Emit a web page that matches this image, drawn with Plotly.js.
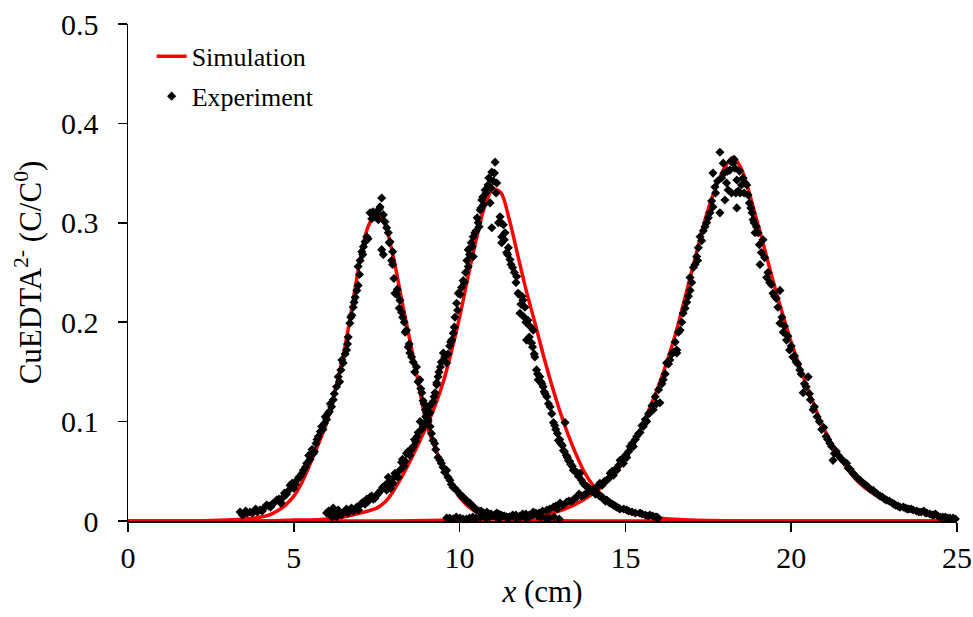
<!DOCTYPE html>
<html>
<head>
<meta charset="utf-8">
<script src="https://cdn.plot.ly/plotly-3.0.1.min.js"></script>
<style>html,body{margin:0;padding:0;background:#fff;}#chart{width:973px;height:617px;}</style>
</head>
<body>
<div id="chart"></div>
<script>
// Simulation curves
const sim1X = [0, 2, 3, 3.5, 4, 4.25, 4.5, 4.75, 5, 5.25, 5.5, 5.75, 6, 6.25, 6.5, 6.75, 7, 7.25, 7.5, 7.75, 8, 8.25, 8.5, 8.75, 9, 9.25, 9.5, 9.75, 10, 10.25, 10.5, 11, 12, 14, 25];
const sim1Y = [0, 0, 0.001, 0.002, 0.004, 0.006, 0.010, 0.016, 0.025, 0.039, 0.058, 0.078, 0.100, 0.132, 0.168, 0.214, 0.263, 0.297, 0.309, 0.298, 0.266, 0.223, 0.182, 0.140, 0.098, 0.074, 0.055, 0.038, 0.024, 0.015, 0.009, 0.003, 0.001, 0, 0];

const sim2X = [0, 4, 5, 5.5, 6, 6.5, 7, 7.5, 7.75, 8, 8.25, 8.5, 8.75, 9, 9.25, 9.5, 9.75, 10, 10.25, 10.5, 10.75, 11, 11.25, 11.5, 11.75, 12, 12.25, 12.5, 12.75, 13, 13.25, 13.5, 13.75, 14, 14.5, 15, 16, 17, 19, 25];
const sim2Y = [0, 0, 0.001, 0.001, 0.002, 0.004, 0.008, 0.013, 0.019, 0.030, 0.044, 0.060, 0.077, 0.095, 0.115, 0.139, 0.170, 0.205, 0.245, 0.283, 0.316, 0.334, 0.330, 0.303, 0.268, 0.233, 0.202, 0.170, 0.140, 0.113, 0.089, 0.068, 0.050, 0.037, 0.020, 0.010, 0.003, 0.001, 0, 0];

const sim3X = [0, 8, 10, 11, 12, 12.5, 13, 13.5, 14, 14.5, 15, 15.5, 16, 16.5, 17, 17.5, 18, 18.25, 18.5, 19, 19.5, 20, 20.5, 21, 21.5, 22, 22.5, 23, 23.5, 24, 24.5, 25];
const sim3Y = [0, 0, 0.001, 0.002, 0.004, 0.006, 0.010, 0.017, 0.027, 0.041, 0.062, 0.096, 0.136, 0.187, 0.251, 0.314, 0.356, 0.366, 0.354, 0.298, 0.236, 0.180, 0.133, 0.092, 0.062, 0.040, 0.027, 0.019, 0.012, 0.008, 0.005, 0.003];

const exp1X = [3.38,3.50,3.60,3.68,3.80,3.90,3.98,4.10,4.18,4.30,4.40,4.48,4.58,4.68,4.78,4.89,5.00,5.09,5.20,5.29,5.39,5.49,5.59,5.67,5.74,5.84,5.92,5.99,6.07,6.14,6.19,6.29,6.34,6.42,6.49,6.59,6.64,6.69,6.75,6.79,6.85,6.94,6.94,7.00,7.05,7.15,7.24,7.30,7.39,7.45,7.50,7.60,7.65,7.65,7.70,7.75,7.85,7.90,7.98,7.98,8.05,8.12,8.20,8.25,8.33,8.40,8.45,8.50,8.60,8.70,8.80,8.86,8.93,9.01,9.11,9.15,9.20,9.28,9.35,9.41,9.50,9.61,9.65,9.71,9.80,9.91,10.01,10.11,10.20,10.31,10.42,10.52,10.65,10.82,10.95,11.12,11.25,11.42,11.60,11.82,12.00,12.22,12.45,12.70,13.00,
  3.45,3.55,3.75,3.85,4.05,4.25,4.35,4.55,4.62,4.72,4.85,4.95,5.05,5.15,5.25,5.35,5.45,5.55,5.62,5.70,5.80,5.88,5.95,6.03,6.10,6.22,6.38,6.45,6.55,6.62,6.72,6.82,6.90,6.98,7.08,7.10,7.20,7.35,7.42,7.55,7.58,7.70,7.80,7.88,7.95,8.02,8.10,8.18,8.28,8.36,8.48,8.55,8.65,8.75,8.83,8.90,8.97,9.05,9.25,9.45,9.55,9.75,9.85,10.05,10.25,10.36,10.47,10.58,10.72,10.88,11.05,11.18,11.35,11.50,11.70,11.90,12.10,12.35,12.60,12.85];
const exp1Y = [0.009,0.007,0.008,0.009,0.010,0.009,0.011,0.013,0.016,0.014,0.018,0.021,0.019,0.024,0.027,0.036,0.033,0.041,0.045,0.051,0.058,0.062,0.068,0.078,0.085,0.095,0.098,0.102,0.110,0.115,0.122,0.135,0.145,0.152,0.159,0.172,0.185,0.199,0.207,0.215,0.225,0.237,0.256,0.262,0.271,0.281,0.284,0.310,0.311,0.306,0.310,0.316,0.325,0.273,0.268,0.301,0.290,0.281,0.271,0.258,0.229,0.233,0.222,0.210,0.200,0.192,0.175,0.169,0.160,0.155,0.142,0.129,0.118,0.109,0.095,0.088,0.081,0.072,0.064,0.061,0.054,0.051,0.044,0.041,0.034,0.031,0.027,0.024,0.021,0.018,0.014,0.011,0.010,0.009,0.007,0.008,0.006,0.004,0.005,0.004,0.003,0.006,0.004,0.003,0.002,
  0.006,0.010,0.008,0.012,0.010,0.015,0.017,0.022,0.018,0.028,0.031,0.038,0.037,0.044,0.048,0.054,0.066,0.072,0.070,0.082,0.090,0.092,0.105,0.108,0.118,0.128,0.140,0.162,0.168,0.178,0.205,0.220,0.232,0.248,0.268,0.276,0.286,0.304,0.308,0.303,0.314,0.308,0.295,0.280,0.262,0.244,0.228,0.214,0.205,0.190,0.178,0.165,0.150,0.140,0.133,0.121,0.112,0.100,0.078,0.058,0.049,0.037,0.033,0.025,0.019,0.016,0.012,0.010,0.008,0.007,0.006,0.007,0.005,0.004,0.003,0.005,0.004,0.005,0.003,0.004];

const exp2X = [5.99,6.10,6.19,6.29,6.39,6.49,6.59,6.69,6.80,6.90,7.00,7.10,7.20,7.30,7.40,7.50,7.60,7.75,7.85,7.92,8.00,8.10,8.20,8.25,8.32,8.40,8.50,8.60,8.68,8.75,8.81,8.90,8.98,9.05,9.11,9.20,9.26,9.31,9.31,9.38,9.45,9.51,9.61,9.70,9.76,9.81,9.86,9.91,9.96,10.06,10.11,10.18,10.26,10.26,10.35,10.41,10.41,10.50,10.56,10.62,10.67,10.72,10.77,10.86,10.92,10.97,10.97,11.02,11.07,11.12,11.22,11.27,11.27,11.32,11.37,11.42,11.47,11.52,11.60,11.72,11.76,11.82,11.88,11.91,11.97,12.02,12.06,12.12,12.17,12.22,12.27,12.32,12.37,12.45,12.52,12.58,12.63,12.73,12.83,12.90,12.98,13.05,13.13,13.18,13.22,13.28,13.35,13.43,13.53,13.63,13.73,13.84,13.94,14.04,14.14,14.23,14.34,14.44,14.54,14.64,14.74,14.84,15.04,15.20,15.44,15.60,15.74,15.90,15.99,
  6.05,6.15,6.24,6.34,6.44,6.54,6.64,6.74,6.85,6.95,7.05,7.15,7.25,7.35,7.45,7.55,7.68,7.80,7.88,7.96,8.05,8.15,8.28,8.36,8.45,8.55,8.64,8.72,8.85,8.94,9.02,9.08,9.16,9.23,9.35,9.42,9.55,9.65,9.73,9.84,9.94,10.02,10.14,10.22,10.30,10.38,10.46,10.53,10.59,10.65,10.70,10.80,10.88,10.95,11.05,11.10,11.17,11.25,11.35,11.45,11.55,11.65,11.70,11.80,11.85,11.95,12.00,12.10,12.20,12.25,12.35,12.42,12.48,12.55,12.68,12.78,12.87,12.95,13.02,13.10,13.16,13.25,13.32,13.40,13.48,13.58,13.68,13.78,13.90,14.00,14.10,14.20,14.30,14.40,14.50,14.60,14.70,14.80,14.95,15.10,15.30,15.50,15.68,15.82,15.95];
const exp2Y = [0.008,0.006,0.013,0.004,0.009,0.008,0.012,0.011,0.010,0.014,0.016,0.019,0.022,0.024,0.022,0.026,0.030,0.036,0.044,0.033,0.038,0.045,0.051,0.059,0.055,0.068,0.066,0.075,0.080,0.089,0.100,0.095,0.105,0.102,0.109,0.120,0.129,0.137,0.139,0.150,0.160,0.169,0.159,0.176,0.182,0.189,0.205,0.219,0.229,0.235,0.242,0.250,0.256,0.273,0.280,0.266,0.286,0.292,0.300,0.313,0.323,0.318,0.333,0.338,0.320,0.351,0.295,0.342,0.361,0.340,0.306,0.286,0.280,0.298,0.290,0.270,0.275,0.263,0.255,0.246,0.229,0.209,0.226,0.222,0.215,0.182,0.202,0.196,0.179,0.192,0.165,0.152,0.142,0.140,0.135,0.128,0.125,0.115,0.099,0.092,0.081,0.078,0.071,0.099,0.066,0.061,0.057,0.051,0.049,0.048,0.038,0.035,0.031,0.030,0.028,0.025,0.022,0.021,0.018,0.016,0.014,0.012,0.011,0.009,0.008,0.006,0.006,0.004,0.003,
  0.010,0.004,0.007,0.011,0.006,0.010,0.008,0.013,0.012,0.011,0.018,0.017,0.020,0.025,0.023,0.028,0.034,0.031,0.040,0.042,0.048,0.044,0.062,0.060,0.070,0.072,0.082,0.085,0.092,0.098,0.106,0.115,0.118,0.125,0.145,0.155,0.165,0.168,0.180,0.195,0.212,0.228,0.240,0.262,0.268,0.276,0.290,0.305,0.296,0.315,0.326,0.330,0.345,0.335,0.350,0.330,0.300,0.300,0.283,0.268,0.258,0.250,0.240,0.228,0.218,0.205,0.200,0.185,0.175,0.168,0.148,0.145,0.138,0.130,0.118,0.108,0.096,0.088,0.082,0.076,0.070,0.064,0.060,0.055,0.050,0.045,0.041,0.036,0.033,0.031,0.027,0.026,0.024,0.020,0.019,0.017,0.015,0.013,0.012,0.010,0.008,0.007,0.005,0.005,0.004];

const exp3X = [9.61,9.80,10.01,10.20,10.40,10.62,10.80,11.00,11.20,11.42,11.60,11.82,12.00,12.22,12.40,12.63,12.83,12.95,13.03,13.23,13.38,13.53,13.68,13.83,13.98,14.14,14.23,14.30,14.44,14.54,14.64,14.74,14.84,14.94,15.04,15.14,15.24,15.34,15.44,15.54,15.64,15.74,15.84,15.94,16.04,16.14,16.24,16.34,16.45,16.55,16.55,16.65,16.74,16.85,16.95,16.95,17.05,17.15,17.20,17.25,17.35,17.45,17.55,17.64,17.64,17.72,17.85,17.85,17.90,17.95,18.00,18.05,18.10,18.15,18.20,18.25,18.30,18.36,18.36,18.40,18.46,18.55,18.61,18.70,18.78,18.85,18.91,18.95,19.06,19.10,19.15,19.26,19.35,19.45,19.55,19.66,19.66,19.76,19.86,19.95,20.05,20.15,20.26,20.36,20.45,20.51,20.58,20.66,20.78,20.92,21.05,21.17,21.26,21.36,21.50,21.67,21.78,21.86,22.00,22.17,22.30,22.47,22.60,22.75,22.88,23.05,23.15,23.28,23.45,23.55,23.68,23.85,24.00,24.09,24.25,24.35,24.49,24.65,24.79,24.95,
  9.70,9.90,10.10,10.30,10.50,10.70,10.90,11.10,11.30,11.50,11.70,11.90,12.10,12.30,12.50,12.72,12.90,13.12,13.30,13.45,13.60,13.75,13.90,14.05,14.20,14.37,14.50,14.60,14.70,14.80,14.90,15.00,15.10,15.20,15.30,15.40,15.50,15.60,15.70,15.80,15.90,16.00,16.10,16.20,16.30,16.40,16.50,16.60,16.70,16.80,16.90,17.00,17.10,17.18,17.30,17.40,17.50,17.60,17.70,17.78,17.98,18.08,18.18,18.28,18.33,18.44,18.50,18.58,18.66,18.74,18.82,18.88,19.00,19.04,19.20,19.30,19.40,19.50,19.60,19.72,19.80,19.90,20.00,20.10,20.20,20.30,20.40,20.55,20.70,20.85,20.98,21.10,21.22,21.30,21.42,21.58,21.72,21.92,22.08,22.22,22.38,22.52,22.68,22.82,22.96,23.10,23.22,23.38,23.50,23.62,23.78,23.92,24.05,24.18,24.30,24.42,24.57,24.72,24.88];
const exp3Y = [0.003,0.002,0.003,0.002,0.004,0.004,0.003,0.005,0.003,0.004,0.006,0.005,0.007,0.009,0.008,0.011,0.014,0.012,0.018,0.019,0.020,0.024,0.025,0.028,0.030,0.034,0.038,0.036,0.041,0.048,0.046,0.051,0.061,0.058,0.064,0.075,0.075,0.085,0.089,0.095,0.100,0.109,0.112,0.118,0.119,0.142,0.159,0.162,0.170,0.172,0.169,0.192,0.209,0.220,0.232,0.245,0.255,0.266,0.275,0.286,0.292,0.300,0.310,0.316,0.350,0.330,0.310,0.371,0.345,0.360,0.323,0.340,0.333,0.353,0.330,0.360,0.355,0.315,0.343,0.332,0.330,0.345,0.340,0.328,0.315,0.303,0.290,0.296,0.258,0.270,0.283,0.245,0.240,0.229,0.224,0.232,0.199,0.190,0.182,0.172,0.165,0.160,0.152,0.129,0.135,0.145,0.122,0.112,0.105,0.092,0.085,0.078,0.061,0.070,0.063,0.058,0.052,0.048,0.043,0.038,0.035,0.031,0.027,0.024,0.021,0.018,0.016,0.014,0.013,0.012,0.011,0.009,0.010,0.008,0.006,0.007,0.004,0.004,0.003,0.002,
  0.003,0.004,0.002,0.003,0.003,0.005,0.004,0.004,0.005,0.004,0.006,0.007,0.006,0.008,0.010,0.012,0.015,0.016,0.020,0.022,0.027,0.026,0.031,0.032,0.036,0.040,0.043,0.050,0.052,0.056,0.062,0.066,0.070,0.078,0.082,0.088,0.096,0.102,0.108,0.116,0.125,0.132,0.138,0.148,0.158,0.168,0.180,0.190,0.200,0.214,0.226,0.240,0.258,0.262,0.282,0.296,0.305,0.322,0.336,0.342,0.350,0.352,0.362,0.364,0.330,0.352,0.338,0.330,0.338,0.320,0.310,0.300,0.290,0.278,0.265,0.250,0.238,0.226,0.215,0.205,0.196,0.186,0.176,0.166,0.158,0.148,0.138,0.128,0.115,0.100,0.094,0.082,0.075,0.068,0.066,0.060,0.053,0.046,0.041,0.037,0.032,0.029,0.025,0.022,0.020,0.017,0.015,0.014,0.012,0.012,0.010,0.009,0.008,0.007,0.006,0.005,0.004,0.003,0.003];

const xTicks = [0, 5, 10, 15, 20, 25];
const yTicks = [0, 0.1, 0.2, 0.3, 0.4, 0.5];
const yTickText = ['0', '0.1', '0.2', '0.3', '0.4', '0.5'];

const simStyle = {color: '#ff0000', width: 3.5, shape: 'spline', smoothing: 0.8};
const expMarker = {symbol: 'diamond', size: 7, color: '#000000', line: {width: 0}};

const traces = [
  {x: sim1X, y: sim1Y, mode: 'lines', name: 'Simulation', line: simStyle, legendgroup: 'sim', showlegend: true, cliponaxis: false},
  {x: sim2X, y: sim2Y, mode: 'lines', name: 'Simulation', line: simStyle, legendgroup: 'sim', showlegend: false, cliponaxis: false},
  {x: sim3X, y: sim3Y, mode: 'lines', name: 'Simulation', line: simStyle, legendgroup: 'sim', showlegend: false, cliponaxis: false},
  {x: exp1X, y: exp1Y, mode: 'markers', name: 'Experiment', marker: expMarker, legendgroup: 'exp', showlegend: true, cliponaxis: false},
  {x: exp2X, y: exp2Y, mode: 'markers', name: 'Experiment', marker: expMarker, legendgroup: 'exp', showlegend: false, cliponaxis: false},
  {x: exp3X, y: exp3Y, mode: 'markers', name: 'Experiment', marker: expMarker, legendgroup: 'exp', showlegend: false, cliponaxis: false}
];

const font = '"Liberation Serif", "Times New Roman", Times, serif';
const layout = {
  width: 973, height: 617,
  margin: {l: 128, r: 16, t: 24, b: 96},
  paper_bgcolor: '#ffffff', plot_bgcolor: '#ffffff',
  font: {family: font, color: '#000000'},
  showlegend: true,
  xaxis: {
    range: [0, 25], tickvals: xTicks, ticktext: xTicks.map(String),
    showline: true, linecolor: '#000000', linewidth: 1.5,
    ticks: 'outside', ticklen: 9, tickwidth: 1.5, tickcolor: '#000000',
    showgrid: false, zeroline: false, layer: 'below traces',
    tickfont: {family: font, size: 30, color: '#000000'},
    ticklabelstandoff: 0,
    title: {text: '<i>x</i> (cm)', font: {family: font, size: 31, color: '#000000'}, standoff: 8},
    automargin: false
  },
  yaxis: {
    range: [0, 0.5], tickvals: yTicks, ticktext: yTickText,
    showline: true, linecolor: '#000000', linewidth: 1.5,
    ticks: 'outside', ticklen: 9, tickwidth: 1.5, tickcolor: '#000000',
    showgrid: false, zeroline: false, layer: 'below traces',
    tickfont: {family: font, size: 30, color: '#000000'},
    ticklabelstandoff: 13,
    title: {text: 'CuEDTA<sup>2-</sup> (C/C<sup>0</sup>)', font: {family: font, size: 31, color: '#000000'}, standoff: 10},
    automargin: false
  },
  legend: {
    x: 0.0285, y: 0.982, xanchor: 'left', yanchor: 'top',
    bgcolor: 'rgba(0,0,0,0)', borderwidth: 0,
    font: {family: font, size: 26, color: '#000000'},
    itemwidth: 30, tracegroupgap: 3, traceorder: 'grouped'
  }
};

Plotly.newPlot('chart', traces, layout, {displayModeBar: false, staticPlot: true});
</script>
</body>
</html>
